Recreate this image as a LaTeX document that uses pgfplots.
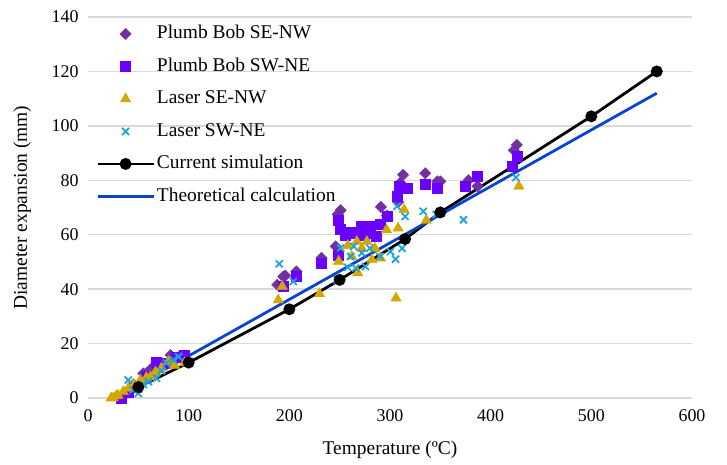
\documentclass[border=0pt]{standalone}
\usepackage{pgfplots}
\pgfplotsset{compat=1.18}
\usepackage{fontspec}
\setmainfont{Liberation Serif}
\definecolor{pbse}{HTML}{7030A0}
\definecolor{pbsw}{HTML}{6A00FF}
\definecolor{lase}{HTML}{D4A800}
\definecolor{lasw}{HTML}{1FA3D8}
\definecolor{theo}{HTML}{0B44CC}
\definecolor{gridc}{HTML}{D9D9D9}
\begin{document}
\begin{tikzpicture}
\begin{axis}[
  scale only axis,
  width=604bp, height=381bp,
  xmin=0, xmax=600, ymin=0, ymax=140,
  xtick={0,100,...,600}, ytick={0,20,...,140},
  ymajorgrids, grid style={gridc, line width=1.5bp},
  axis line style={draw=none},
  major tick length=0pt,
  /pgf/number format/assume math mode=true,
  tick label style={font=\fontsize{18}{20}\selectfont},
  yticklabel style={xshift=-6bp},
  xticklabel style={yshift=-8bp},
  xlabel={Temperature (ºC)},
  ylabel={Diameter expansion (mm)},
  label style={font=\fontsize{19.5}{22}\selectfont},
  xlabel style={at={(axis description cs:0.5,-0.137)}, anchor=center},
  ylabel style={at={(axis description cs:-0.109,0.5)}, anchor=center, rotate=0},
  legend cell align=left,
  legend style={at={(axis description cs:0,1)}, anchor=north west, xshift=8bp, yshift=-5.5bp,
    draw=none, fill=none, inner sep=0pt, row sep=10bp,
    font=\fontsize{19.5}{22}\selectfont,
    nodes={inner sep=2bp, text height=14bp, text depth=4.5bp}},
  legend image code/.code={\draw[mark repeat=2,mark phase=2,#1] plot coordinates {(0bp,0bp) (28bp,0bp) (56bp,0bp)};},
]
\coordinate (SW) at (rel axis cs:0,0);
\addplot[only marks, mark=square*, mark size=4bp, mark options={rotate=45}, color=pbse, fill=pbse] coordinates {
(33,0.5)(45,5)(55,9)(62,10.5)(68,12.8)(82,15.8)(90,15)
(188,41.6)(194,44.6)(196,45)(207,46.5)(232,51.5)(246,55.7)(248,67.5)(251,69)(291,70.2)(297,67)(308,72)(310,79)(313,82)(335,82.6)(347,79.6)(350,79.6)(378,80)(387,77.8)(423,91)(426,93)};
\addlegendentry{Plumb Bob SE-NW}
\addplot[only marks, mark=square*, mark size=5bp, color=pbsw, fill=pbsw] coordinates {
(33,0)(40,2)(48,4)(58,8)(68,13)(77,12.8)(88,15)(96,15.8)
(194,41.2)(207,44.8)(232,49.6)(249,52.6)(249,65.5)(251,62)(255,60)(258,61)(262,60.5)(266,61)(271,63)(274,60)(277,60.7)(280,63)(286,59.4)(290,64)(297,66.7)(307,74)(309,77.8)(317,77)(335,78.4)(347,77)(375,77.8)(387,81.5)(421,85)(426,88.8)};
\addlegendentry{Plumb Bob SW-NE}
\addplot[only marks, mark=triangle*, mark size=6bp, color=lase, fill=lase] coordinates {
(23,0)(25,0)(28,0.8)(30,1)(35,2.3)(40,3.5)(45,5)(52,6.6)(58,7.5)(62,7.8)(67,9.5)(73,11)(80,13.4)(86,12)(96,12.9)
(189,36)(193,41)(230,38.3)(249,50.2)(258,56)(262,52)(267,57.5)(268,46)(272,55)(277,57.5)(282,50.8)(285,55)(290.5,51.4)(296.5,61.8)(306,36.7)(308,62.4)(314,69.2)(336,65.3)(428,77.8)};
\addlegendentry{Laser SE-NW}
\addplot[only marks, mark=x, mark size=5bp, color=lasw, line width=1.8bp] coordinates {
(40,6.6)(45,3)(50,1.7)(55,5)(60,6)(68,7.2)(73,10)(78,12.8)(85,14)(90,15.2)
(190,49.3)(204,42.8)(247.5,43.4)(251,55.1)(258,48)(261,52)(264,55.7)(266,47.7)(272,53.3)(275.6,48.3)(280,55)(290,52)(300.5,53.8)(305.5,51)(307,70.4)(312,55)(315,66.7)(333,68.6)(346,67.4)(373,65.5)(425,81)};
\addlegendentry{Laser SW-NE}
\addplot[black, line width=2.8bp, mark=*, mark size=4.5bp] coordinates {
(50,4)(100,13)(200,32.6)(250,43.4)(315,58.4)(350,68.2)(500,103.5)(565,120)};
\addlegendentry{Current simulation}
\addplot[theo, line width=2.8bp] coordinates {(40,3)(565,112)};
\addlegendentry{Theoretical calculation}
\end{axis}
\pgfresetboundingbox
\path[use as bounding box] ([shift={(-88bp,-67bp)}]SW) rectangle ([shift={(639bp,398bp)}]SW);
\end{tikzpicture}
\end{document}
